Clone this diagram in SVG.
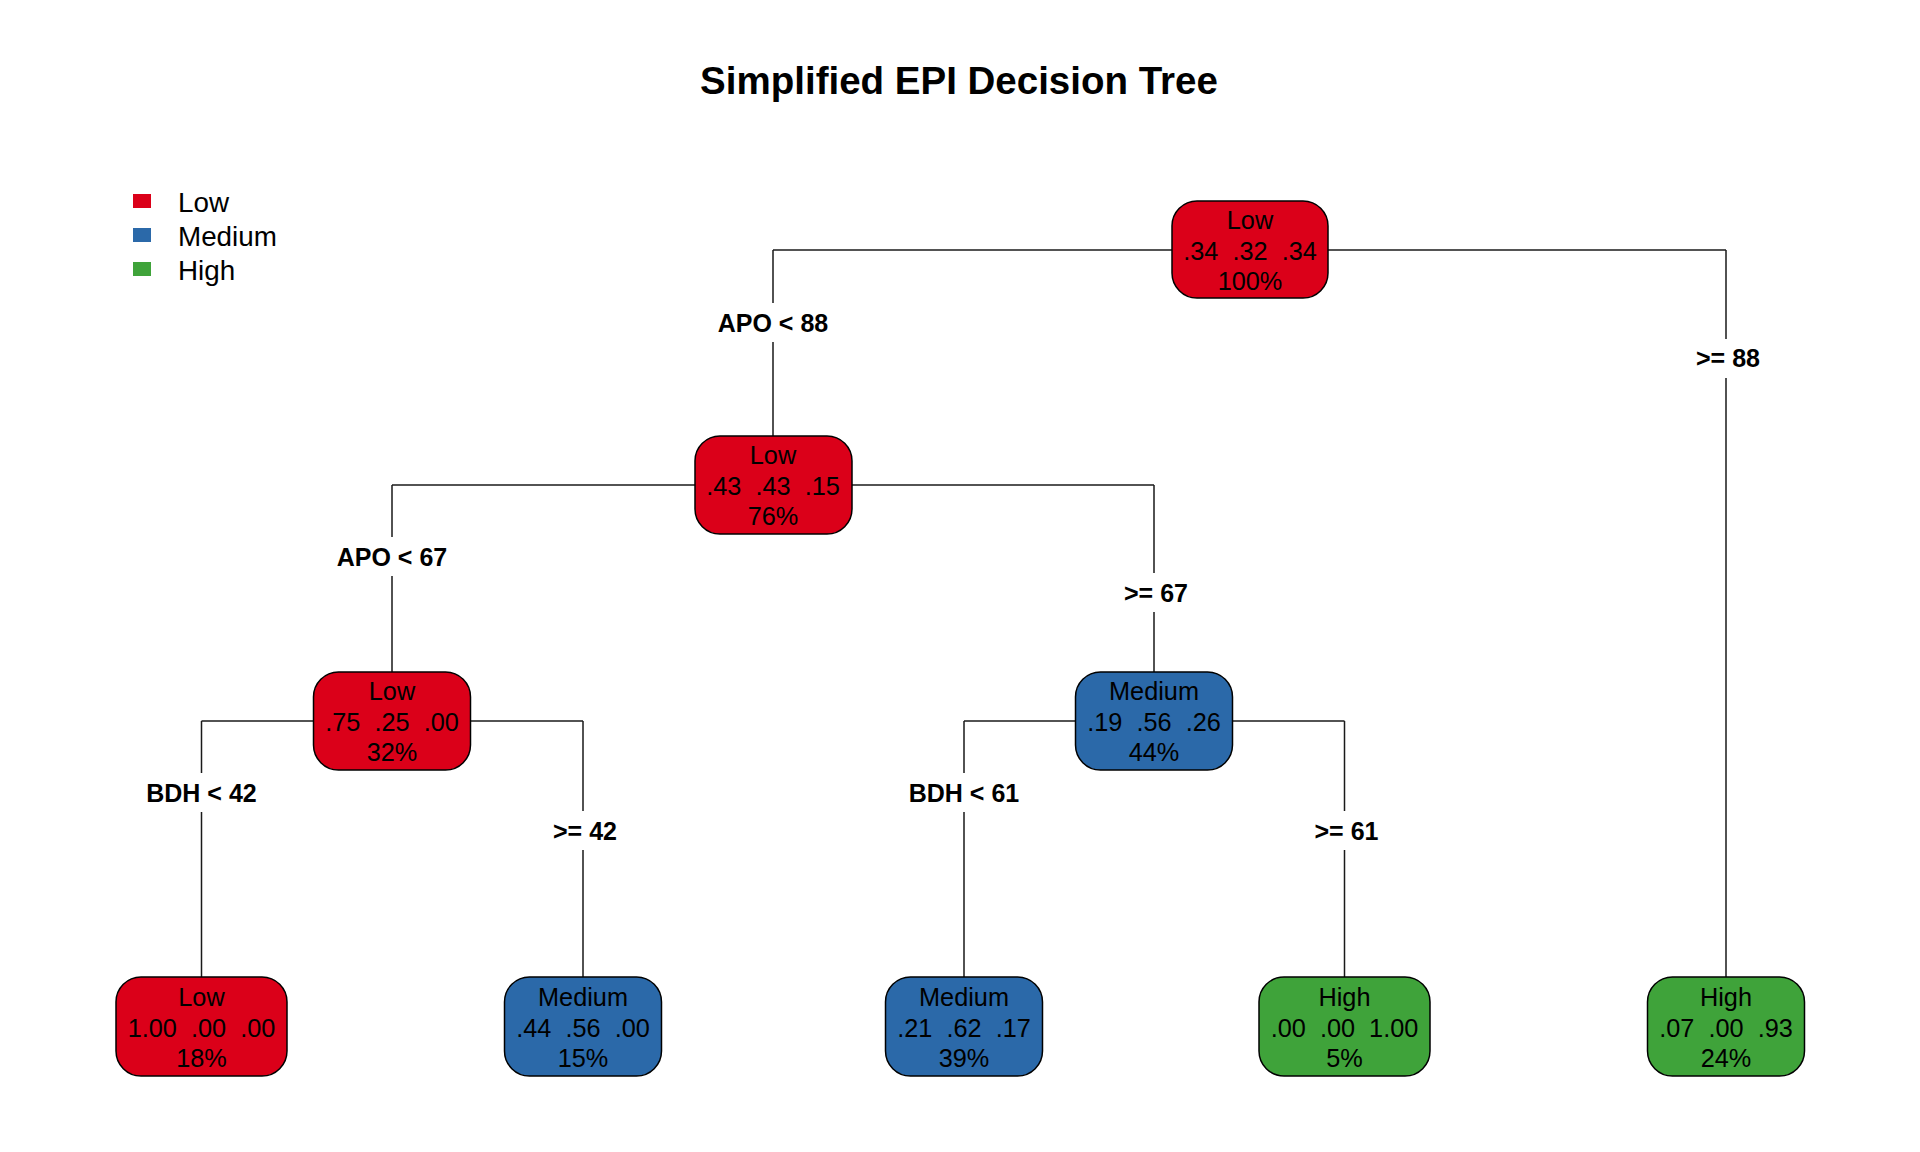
<svg xmlns="http://www.w3.org/2000/svg" width="1920" height="1152" viewBox="0 0 1920 1152">
<style>
  .bg{fill:#ffffff}
  .title{font-family:"Liberation Sans",Arial,sans-serif;font-weight:bold;font-size:38.5px;fill:#000;text-anchor:middle}
  .leg{font-family:"Liberation Sans",Arial,sans-serif;font-size:27.8px;fill:#000}
  .box{stroke:#000;stroke-width:1.5}
  .low{fill:#DB0019}
  .med{fill:#2B69A9}
  .high{fill:#3FA33A}
  .nt{font-family:"Liberation Sans",Arial,sans-serif;font-size:25.3px;fill:#000;text-anchor:middle;white-space:pre}
  .lab{font-family:"Liberation Sans",Arial,sans-serif;font-weight:bold;font-size:25px;fill:#000;text-anchor:middle;white-space:pre}
  .con{fill:none;stroke:#1a1a1a;stroke-width:1.5}
</style>
<rect class="bg" x="0" y="0" width="1920" height="1152"/>
<text class="title" x="959" y="94">Simplified EPI Decision Tree</text>

<g id="legend">
  <rect class="low" x="133" y="194" width="18" height="14"/>
  <rect class="med" x="133" y="228" width="18" height="14"/>
  <rect class="high" x="133" y="262" width="18" height="14"/>
  <text class="leg" x="178" y="212">Low</text>
  <text class="leg" x="178" y="246">Medium</text>
  <text class="leg" x="178" y="280">High</text>
</g>

<g id="connectors">
  <path class="con" d="M773 250 H1726"/>
  <path class="con" d="M773 250 V303 M773 342 V436"/>
  <path class="con" d="M1726 250 V339 M1726 378 V977"/>
  <path class="con" d="M392 485 H1154"/>
  <path class="con" d="M392 485 V537 M392 576 V672"/>
  <path class="con" d="M1154 485 V573 M1154 612 V672"/>
  <path class="con" d="M201.5 721 H583"/>
  <path class="con" d="M201.5 721 V773 M201.5 812 V977"/>
  <path class="con" d="M583 721 V811 M583 850 V977"/>
  <path class="con" d="M964 721 H1344.5"/>
  <path class="con" d="M964 721 V773 M964 812 V977"/>
  <path class="con" d="M1344.5 721 V811 M1344.5 850 V977"/>
  <text class="lab" x="773" y="332">APO &lt; 88</text>
  <text class="lab" x="1728" y="367">&gt;= 88</text>
  <text class="lab" x="392" y="566">APO &lt; 67</text>
  <text class="lab" x="1156" y="602">&gt;= 67</text>
  <text class="lab" x="201.5" y="802">BDH &lt; 42</text>
  <text class="lab" x="585" y="840">&gt;= 42</text>
  <text class="lab" x="964" y="802">BDH &lt; 61</text>
  <text class="lab" x="1346.5" y="840">&gt;= 61</text>
</g>

<g id="node-root">
  <rect class="box low" x="1172" y="201" width="156" height="97" rx="25" ry="25"/>
  <text class="nt" x="1250" y="229">Low</text>
  <text class="nt" x="1250" y="260">.34  .32  .34</text>
  <text class="nt" x="1250" y="290">100%</text>
</g>

<g id="node-2">
  <rect class="box low" x="695" y="436" width="157" height="98" rx="25" ry="25"/>
  <text class="nt" x="773" y="464">Low</text>
  <text class="nt" x="773" y="495">.43  .43  .15</text>
  <text class="nt" x="773" y="525">76%</text>
</g>

<g id="node-4">
  <rect class="box low" x="313.5" y="672" width="157" height="98" rx="25" ry="25"/>
  <text class="nt" x="392" y="700">Low</text>
  <text class="nt" x="392" y="731">.75  .25  .00</text>
  <text class="nt" x="392" y="761">32%</text>
</g>

<g id="node-5">
  <rect class="box med" x="1075.5" y="672" width="157" height="98" rx="25" ry="25"/>
  <text class="nt" x="1154" y="700">Medium</text>
  <text class="nt" x="1154" y="731">.19  .56  .26</text>
  <text class="nt" x="1154" y="761">44%</text>
</g>

<g id="node-8">
  <rect class="box low" x="116" y="977" width="171" height="99" rx="25" ry="25"/>
  <text class="nt" x="201.5" y="1006">Low</text>
  <text class="nt" x="201.5" y="1037">1.00  .00  .00</text>
  <text class="nt" x="201.5" y="1067">18%</text>
</g>

<g id="node-9">
  <rect class="box med" x="504.5" y="977" width="157" height="99" rx="25" ry="25"/>
  <text class="nt" x="583" y="1006">Medium</text>
  <text class="nt" x="583" y="1037">.44  .56  .00</text>
  <text class="nt" x="583" y="1067">15%</text>
</g>

<g id="node-10">
  <rect class="box med" x="885.5" y="977" width="157" height="99" rx="25" ry="25"/>
  <text class="nt" x="964" y="1006">Medium</text>
  <text class="nt" x="964" y="1037">.21  .62  .17</text>
  <text class="nt" x="964" y="1067">39%</text>
</g>

<g id="node-11">
  <rect class="box high" x="1259" y="977" width="171" height="99" rx="25" ry="25"/>
  <text class="nt" x="1344.5" y="1006">High</text>
  <text class="nt" x="1344.5" y="1037">.00  .00  1.00</text>
  <text class="nt" x="1344.5" y="1067">5%</text>
</g>

<g id="node-3">
  <rect class="box high" x="1647.5" y="977" width="157" height="99" rx="25" ry="25"/>
  <text class="nt" x="1726" y="1006">High</text>
  <text class="nt" x="1726" y="1037">.07  .00  .93</text>
  <text class="nt" x="1726" y="1067">24%</text>
</g>
</svg>
